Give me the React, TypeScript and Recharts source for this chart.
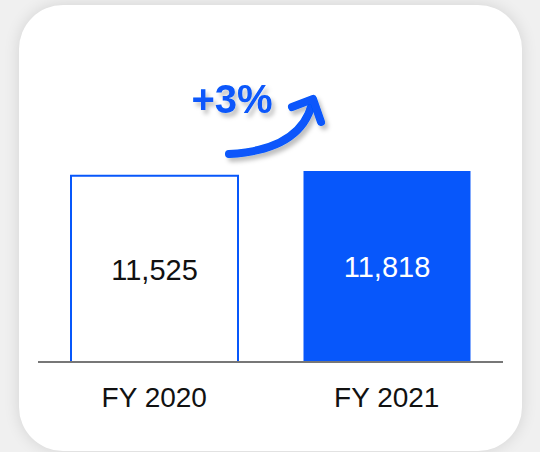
import { Bar, BarChart, Cell, LabelList, XAxis, YAxis } from "recharts";

const years = ["FY 2020", "FY 2021"];
const revenue = [11525, 11818];
const growthLabel = "+3%";

const data = years.map((year, i) => ({ year, revenue: revenue[i] }));

const BLUE = "#0757fb";

function ValueLabel(props: any) {
  const { x, y, width, height, value, index } = props;
  return (
    <text
      x={x + width / 2}
      y={y + height / 2 + 1}
      textAnchor="middle"
      dominantBaseline="central"
      fill={index === 0 ? "#111" : "#fff"}
      fontSize={29}
      fontFamily="'Liberation Sans', Arial, sans-serif"
    >
      {Number(value).toLocaleString("en-US")}
    </text>
  );
}

export default function App() {
  return (
    <div style={{ position: "relative", width: 540, height: 452, background: "#f0f0f0", overflow: "hidden" }}>
      <style>{`body{margin:0}`}</style>
      <div
        style={{
          position: "absolute",
          left: 19,
          top: 5,
          width: 503,
          height: 446,
          borderRadius: 44,
          background: "#fff",
          boxShadow: "0 0 16px rgba(0,0,0,0.12)",
        }}
      />
      <div style={{ position: "absolute", left: 0, top: 0 }}>
        <BarChart width={540} height={452} data={data} margin={{ top: 168, right: 37, left: 38, bottom: 0 }}>
          <YAxis hide domain={[0, 12000]} />
          <XAxis
            dataKey="year"
            height={90}
            stroke="#777"
            strokeWidth={2}
            tickLine={false}
            tickMargin={19}
            tick={{ fill: "#111", fontSize: 28, fontFamily: "'Liberation Sans', Arial, sans-serif" }}
          />
          <Bar dataKey="revenue" barSize={167} isAnimationActive={false}>
            {data.map((_, i) => (
              <Cell key={i} fill={i === 0 ? "#fff" : BLUE} stroke={BLUE} strokeWidth={i === 0 ? 2 : 0} />
            ))}
            <LabelList dataKey="revenue" content={ValueLabel} />
          </Bar>
        </BarChart>
      </div>
      {/* growth annotation */}
      <svg width={540} height={452} style={{ position: "absolute", left: 0, top: 0, pointerEvents: "none" }}>
        <defs>
          <filter id="sh" x="-20%" y="-20%" width="150%" height="150%">
            <feDropShadow dx="3" dy="4" stdDeviation="2" floodColor="#000" floodOpacity="0.25" />
          </filter>
        </defs>
        <g filter="url(#sh)">
          <text
            x={232}
            y={113}
            textAnchor="middle"
            fill={BLUE}
            fontSize={40}
            fontWeight="bold"
            fontFamily="'Liberation Sans', Arial, sans-serif"
          >
            {growthLabel}
          </text>
          <path
            d="M229,154 Q300,150 312,104"
            fill="none"
            stroke={BLUE}
            strokeWidth={8}
            strokeLinecap="round"
          />
          <path
            d="M292,107 L313,99 L321,122"
            fill="none"
            stroke={BLUE}
            strokeWidth={8}
            strokeLinecap="round"
            strokeLinejoin="round"
          />
        </g>
      </svg>
    </div>
  );
}
